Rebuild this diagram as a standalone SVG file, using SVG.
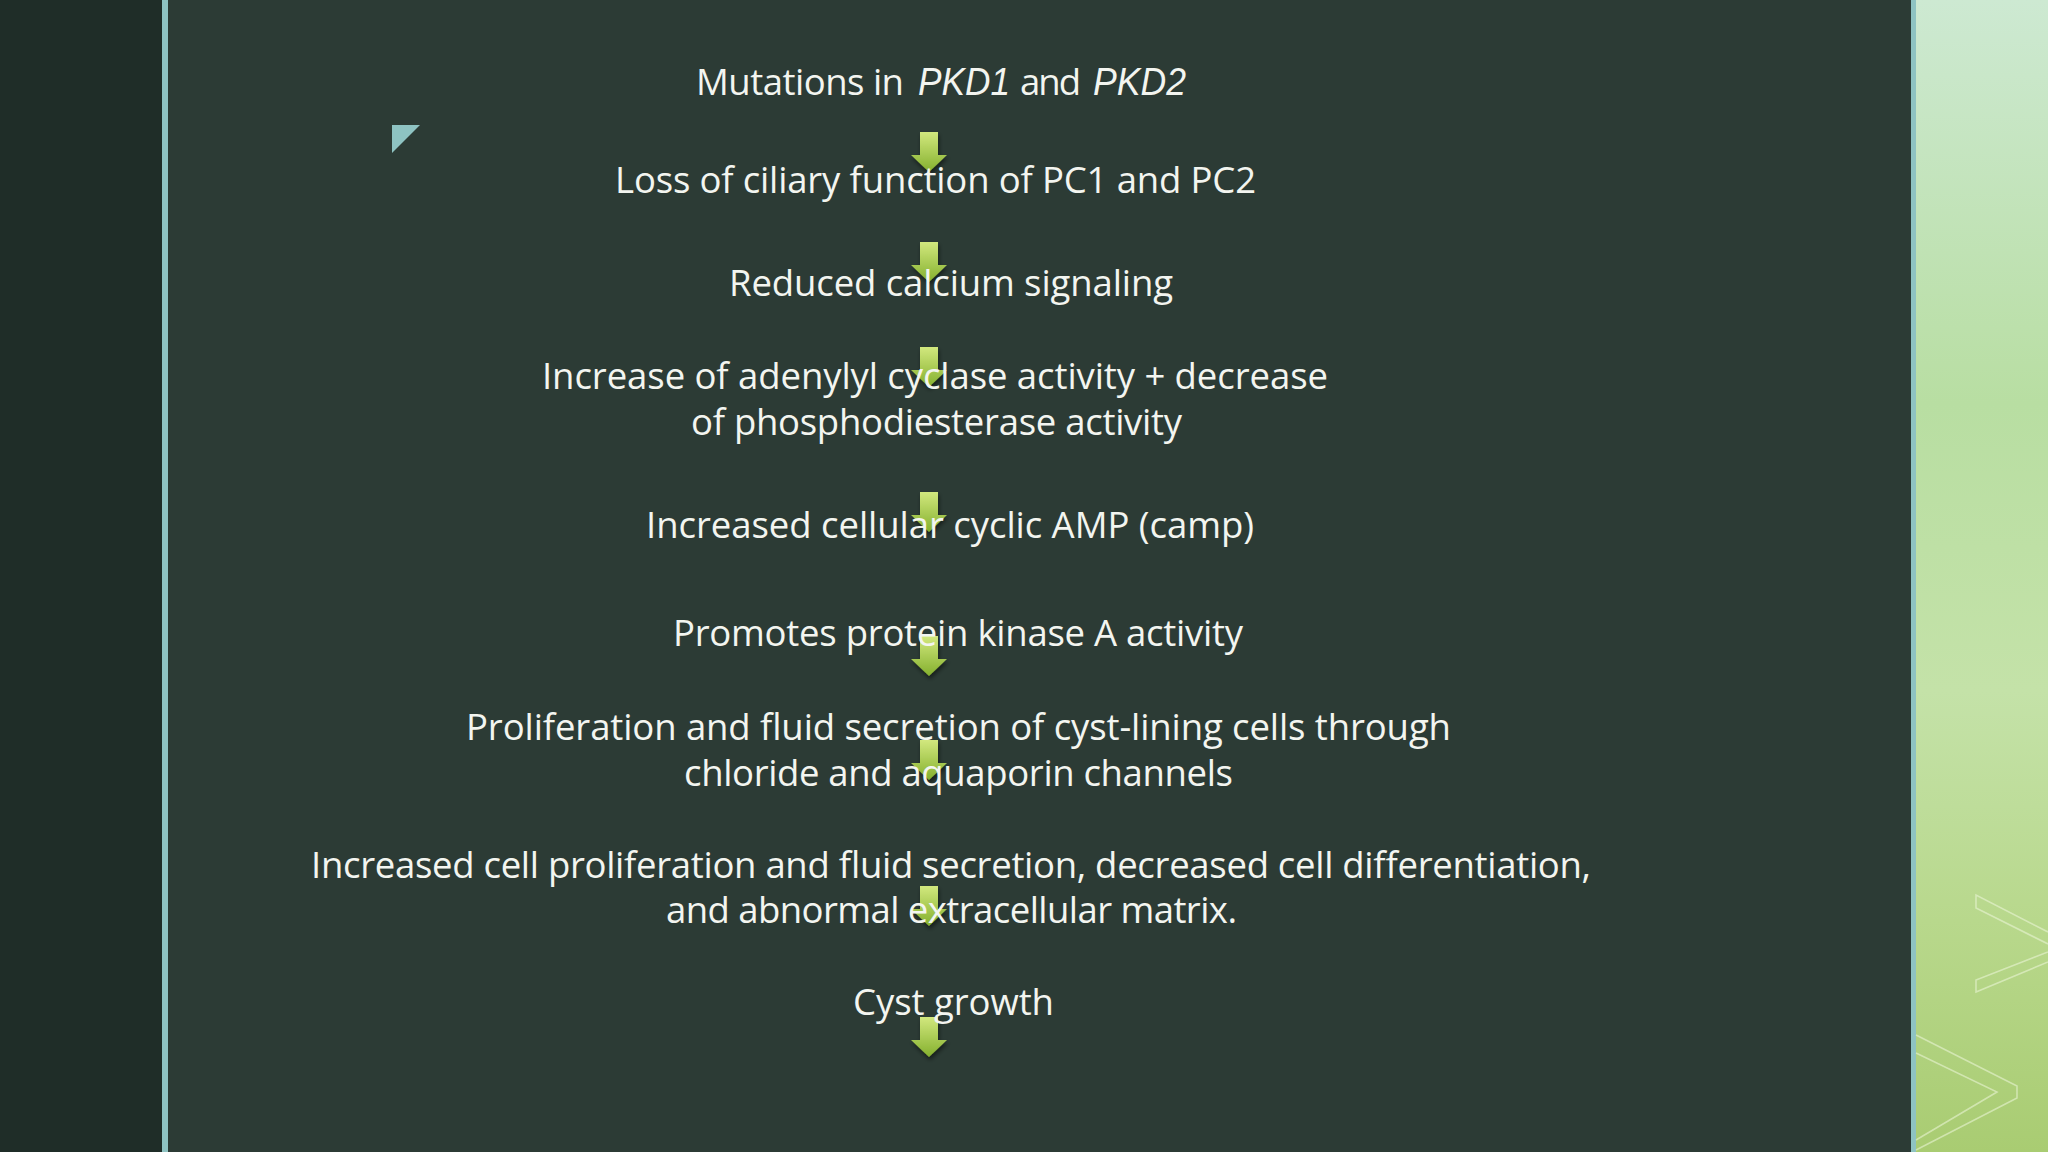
<svg xmlns="http://www.w3.org/2000/svg" xmlns:xlink="http://www.w3.org/1999/xlink" width="2048" height="1152" viewBox="0 0 2048 1152">
  <style>
    .t { font-family: "Open Sans", "Noto Sans", "DejaVu Sans", sans-serif; font-size: 36.5px; fill: #f3f5f0; }
    .it { font-family: "Liberation Sans", Arial, sans-serif; font-style: italic; font-size: 38px; fill: #f3f5f0; }
    .chev { fill: none; stroke: #eef7dc; stroke-width: 1.6; opacity: 0.55; }
  </style>
  <defs>
    <linearGradient id="green" x1="0" y1="0" x2="0" y2="1">
      <stop offset="0" stop-color="#cde9d2"/>
      <stop offset="0.35" stop-color="#b8dea2"/>
      <stop offset="0.6" stop-color="#c4e2a8"/>
      <stop offset="0.8" stop-color="#b8d88c"/>
      <stop offset="1" stop-color="#a9cc72"/>
    </linearGradient>
    <linearGradient id="arrowFill" x1="0" y1="0" x2="0" y2="1">
      <stop offset="0" stop-color="#d2e87e"/>
      <stop offset="1" stop-color="#84b02e"/>
    </linearGradient>
    <filter id="shadow" x="-50%" y="-50%" width="200%" height="200%">
      <feDropShadow dx="1" dy="3" stdDeviation="2" flood-color="#000" flood-opacity="0.5"/>
    </filter>
    <path id="arr" d="M-9,0 H9 V23 H18 L0,40 L-18,23 H-9 Z" fill="url(#arrowFill)"/>
  </defs>

  <!-- background panels -->
  <rect x="0" y="0" width="2048" height="1152" fill="#2c3b35"/>
  <rect x="0" y="0" width="162" height="1152" fill="#1f2d28"/>
  <rect x="162" y="0" width="6" height="1152" fill="#8ec3c2"/>
  <rect x="1916" y="0" width="132" height="1152" fill="url(#green)"/>
  <rect x="1911" y="0" width="5" height="1152" fill="#8ec3c2"/>
  <path class="chev" d="M2048,932 L1976,895 V908 L2048,944 M2048,952 L1976,980 V992 L2048,962"/>
  <path class="chev" d="M1916,1035 L2017,1086 V1098 L1916,1150 M1916,1053 L1997,1092 L1916,1140"/>
  <polygon points="392,125 420,125 392,153" fill="#8ec3c2"/>

  <g id="connectors" filter="url(#shadow)">
    <use href="#arr" x="929" y="132"/>
    <use href="#arr" x="929" y="242"/>
    <use href="#arr" x="929" y="347"/>
    <use href="#arr" x="929" y="492"/>
    <use href="#arr" x="929" y="636"/>
    <use href="#arr" x="929" y="740"/>
    <use href="#arr" x="929" y="886"/>
    <use href="#arr" x="929" y="1017"/>
  </g>

  <g id="n1">
    <text class="t" x="696" y="95" textLength="208">Mutations in</text>
    <text class="it" x="918" y="95" textLength="92" lengthAdjust="spacingAndGlyphs">PKD1</text>
    <text class="t" x="1020" y="95" textLength="61">and</text>
    <text class="it" x="1093" y="95" textLength="93" lengthAdjust="spacingAndGlyphs">PKD2</text>
  </g>
  <g id="n2"><text class="t" x="615" y="193" textLength="641">Loss of ciliary function of PC1 and PC2</text></g>
  <g id="n3"><text class="t" x="729" y="296" textLength="444">Reduced calcium signaling</text></g>
  <g id="n4">
    <text class="t" x="542" y="389" textLength="786">Increase of adenylyl cyclase activity + decrease</text>
    <text class="t" x="691" y="435" textLength="491">of phosphodiesterase activity</text>
  </g>
  <g id="n5"><text class="t" x="646" y="538" textLength="608">Increased cellular cyclic AMP (camp)</text></g>
  <g id="n6"><text class="t" x="673" y="646" textLength="570">Promotes protein kinase A activity</text></g>
  <g id="n7">
    <text class="t" x="466" y="740" textLength="985">Proliferation and fluid secretion of cyst-lining cells through</text>
    <text class="t" x="684" y="786" textLength="549">chloride and aquaporin channels</text>
  </g>
  <g id="n8">
    <text class="t" x="311" y="878" textLength="1280">Increased cell proliferation and fluid secretion, decreased cell differentiation,</text>
    <text class="t" x="666" y="923" textLength="571">and abnormal extracellular matrix.</text>
  </g>
  <g id="n9"><text class="t" x="853" y="1015" textLength="201">Cyst growth</text></g>
</svg>
